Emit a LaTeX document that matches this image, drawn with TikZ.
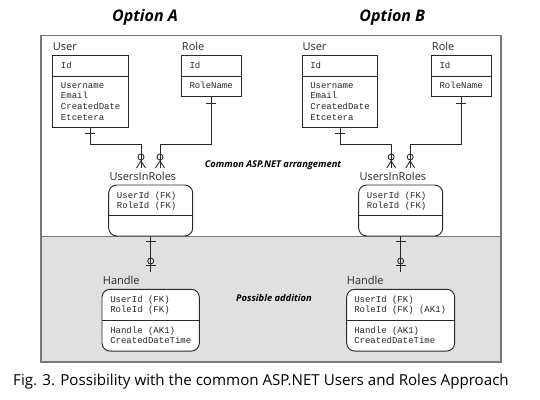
\documentclass[tikz,border=0pt]{standalone}
\usepackage{fontspec}
\setmainfont{Open Sans}
\setmonofont{Liberation Mono}
\usetikzlibrary{calc}

\definecolor{framec}{RGB}{120,120,120}
\definecolor{bandc}{RGB}{224,224,224}
\definecolor{linec}{RGB}{40,40,40}

\tikzset{
  tbl/.style={draw=linec, fill=white, line width=0.7pt, inner sep=0pt, outer sep=0pt, anchor=north west},
  rtbl/.style={tbl, rounded corners=6pt},
  fld/.style={font=\ttfamily\fontsize{6.75}{7.9}\selectfont, align=left, inner sep=0pt, anchor=base west, text=linec},
  lbl/.style={font=\fontsize{8.25}{10}\selectfont, inner sep=0pt, anchor=base west, text=linec},
  ttl/.style={font=\bfseries\itshape\fontsize{12}{14}\selectfont, inner sep=0pt, anchor=base},
  note/.style={font=\bfseries\itshape\fontsize{7}{8}\selectfont, inner sep=0pt, anchor=base},
  rel/.style={draw=linec, line width=0.65pt},
  onebar/.pic={\draw[rel] (-5,0) -- (5,0);},
  zeromany/.pic={\draw[rel] (0,11) circle (3); \draw[rel] (-4.5,0) -- (0,7) -- (4.5,0);},
  zeroone/.pic={\draw[rel] (0,10.7) circle (3); \draw[rel] (-5,6.7) -- (5,6.7);},
}

\begin{document}
\begin{tikzpicture}[x=0.75pt,y=0.75pt,yscale=-1,xscale=1]
\useasboundingbox (0,0) rectangle (540,400);

% frame and band
\fill[bandc] (41,236.7) rectangle (501,362);
\draw[framec, line width=1.1pt] (41,35.7) rectangle (501,362);
\draw[framec, line width=1.1pt] (41,236.7) -- (501,236.7);

% titles
\node[ttl] (ttlA) at (145,21.5) {Option A};
\node[ttl] (ttlB) at (392.3,21) {Option B};
\node[note] (noteTop) at (273,167.5) {Common ASP.NET arrangement};
\node[note] (noteBot) at (274,301) {Possible addition};

%%% Option A
% tables
\node[tbl, minimum width=56.5pt, minimum height=54pt] (userA) at (52.7,55.3) {};
\node[tbl, minimum width=44.5pt, minimum height=31pt] (roleA) at (181.7,55.3) {};
\node[rtbl, minimum width=63pt, minimum height=38.25pt] (uirA) at (108.7,185) {};
\node[rtbl, minimum width=73pt, minimum height=46.3pt] (handleA) at (102,289.3) {};
% dividers
\draw[linec, line width=0.7pt] ($(userA.north west)+(0,20.7)$) -- ($(userA.north east)+(0,20.7)$);
\draw[linec, line width=0.7pt] ($(roleA.north west)+(0,20.7)$) -- ($(roleA.north east)+(0,20.7)$);
\draw[linec, line width=0.7pt] ($(uirA.north west)+(0,30.7)$) -- ($(uirA.north east)+(0,30.7)$);
\draw[linec, line width=0.7pt] ($(handleA.north west)+(0,30.7)$) -- ($(handleA.north east)+(0,30.7)$);
% labels
\node[lbl] (userA-lbl) at (52.7,50.8) {User};
\node[lbl] (roleA-lbl) at (181.7,50.8) {Role};
\node[lbl] (uirA-lbl) at (109.3,180.7) {UsersInRoles};
\node[lbl] (handleA-lbl) at (102.7,284.7) {Handle};
% fields (base = last line)
\node[fld] (userA-key) at (60.7,68.7) {Id};
\node[fld] (userA-att) at (60.7,120) {Username\\Email\\CreatedDate\\Etcetera};
\node[fld] (roleA-key) at (189.3,68.7) {Id};
\node[fld] (roleA-att) at (189.3,88.7) {RoleName};
\node[fld] (uirA-key) at (116.7,208.7) {UserId (FK)\\RoleId (FK)};
\node[fld] (handleA-key) at (110,312.7) {UserId (FK)\\RoleId (FK)};
\node[fld] (handleA-att) at (110,343.7) {Handle (AK1)\\CreatedDateTime};
% relations
\coordinate (busA) at (0,144);
\coordinate (uirA-in1) at ($(uirA.north)+(-9.7,-17)$);
\coordinate (uirA-in2) at ($(uirA.north)+(9.3,-17)$);
\coordinate (handleA-in) at ($(handleA.north)+(0,-17.6)$);
\draw[rel] (userA.south) -- (userA.south |- busA) -| (uirA-in1);
\draw[rel] (roleA.south) -- (roleA.south |- busA) -| (uirA-in2);
\draw[rel] (uirA.south) -- (uirA.south |- handleA-in);
\pic at ($(userA.south)+(0,6)$) {onebar};
\pic at ($(roleA.south)+(0,6.3)$) {onebar};
\pic at ($(uirA.south)+(0,5.7)$) {onebar};
\pic at (uirA-in1) {zeromany};
\pic at (uirA-in2) {zeromany};
\pic at (uirA.south |- handleA-in) {zeroone};

%%% Option B
% tables
\node[tbl, minimum width=56.5pt, minimum height=54pt] (userB) at (302.3,55.3) {};
\node[tbl, minimum width=44.5pt, minimum height=31pt] (roleB) at (431.7,55.3) {};
\node[rtbl, minimum width=63pt, minimum height=38.25pt] (uirB) at (358.7,185) {};
\node[rtbl, minimum width=81pt, minimum height=46.3pt] (handleB) at (346.7,289.3) {};
% dividers
\draw[linec, line width=0.7pt] ($(userB.north west)+(0,20.7)$) -- ($(userB.north east)+(0,20.7)$);
\draw[linec, line width=0.7pt] ($(roleB.north west)+(0,20.7)$) -- ($(roleB.north east)+(0,20.7)$);
\draw[linec, line width=0.7pt] ($(uirB.north west)+(0,30.7)$) -- ($(uirB.north east)+(0,30.7)$);
\draw[linec, line width=0.7pt] ($(handleB.north west)+(0,30.7)$) -- ($(handleB.north east)+(0,30.7)$);
% labels
\node[lbl] (userB-lbl) at (302.3,50.8) {User};
\node[lbl] (roleB-lbl) at (431.7,50.8) {Role};
\node[lbl] (uirB-lbl) at (359.3,180.7) {UsersInRoles};
\node[lbl] (handleB-lbl) at (346.7,284.7) {Handle};
% fields (base = last line)
\node[fld] (userB-key) at (310,68.7) {Id};
\node[fld] (userB-att) at (310,120) {Username\\Email\\CreatedDate\\Etcetera};
\node[fld] (roleB-key) at (439.3,68.7) {Id};
\node[fld] (roleB-att) at (439.3,88.7) {RoleName};
\node[fld] (uirB-key) at (366.7,208.7) {UserId (FK)\\RoleId (FK)};
\node[fld] (handleB-key) at (354,312.7) {UserId (FK)\\RoleId (FK) (AK1)};
\node[fld] (handleB-att) at (354,343.7) {Handle (AK1)\\CreatedDateTime};
% relations
\coordinate (busB) at (0,144);
\coordinate (uirB-in1) at ($(uirB.north)+(-9.5,-17)$);
\coordinate (uirB-in2) at ($(uirB.north)+(9.5,-17)$);
\coordinate (handleB-in) at ($(handleB.north)+(0,-17.6)$);
\draw[rel] (userB.south) -- (userB.south |- busB) -| (uirB-in1);
\draw[rel] (roleB.south) -- (roleB.south |- busB) -| (uirB-in2);
\draw[rel] (uirB.south) -- (uirB.south |- handleB-in);
\pic at ($(userB.south)+(0,6)$) {onebar};
\pic at ($(roleB.south)+(0,6.3)$) {onebar};
\pic at ($(uirB.south)+(0,5.7)$) {onebar};
\pic at (uirB-in1) {zeromany};
\pic at (uirB-in2) {zeromany};
\pic at (uirB.south |- handleB-in) {zeroone};

% caption
\node[font=\fontsize{11.35}{13}\selectfont, inner sep=0pt, anchor=base] (caption) at (261,385) {Fig. 3. Possibility with the common ASP.NET Users and Roles Approach};

\end{tikzpicture}
\end{document}
